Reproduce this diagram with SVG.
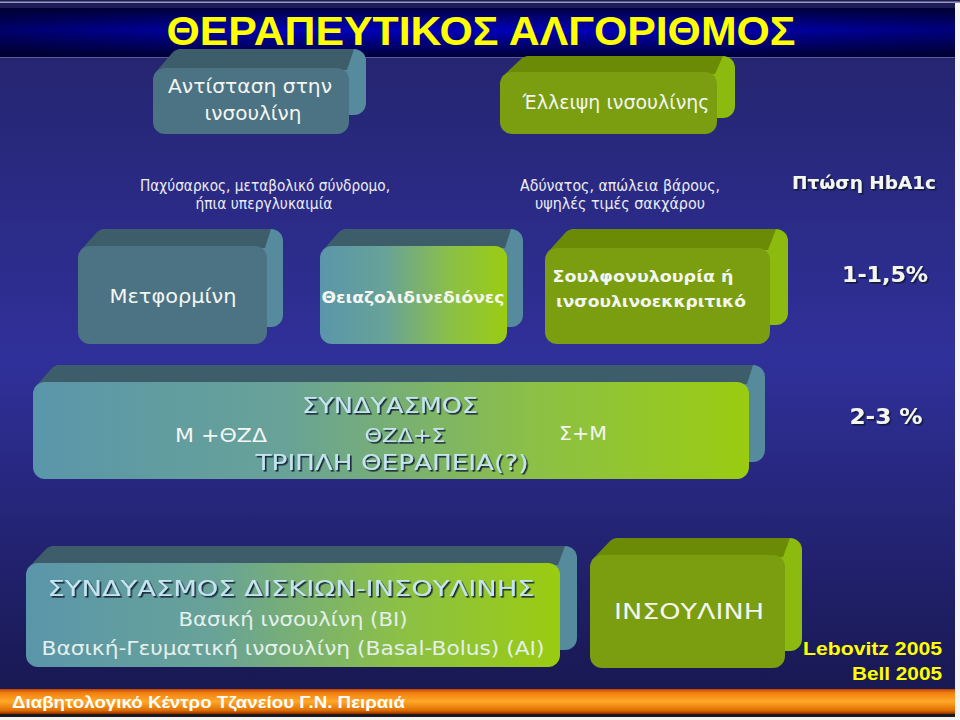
<svg xmlns="http://www.w3.org/2000/svg" width="960" height="720" viewBox="0 0 960 720">
<defs>
<linearGradient id="bg" x1="0" y1="0" x2="0" y2="1">
<stop offset="0" stop-color="#23236a"/>
<stop offset="0.5" stop-color="#30309a"/>
<stop offset="1" stop-color="#16164c"/>
</linearGradient>
<linearGradient id="titlebar" x1="0" y1="0" x2="0" y2="1">
<stop offset="0" stop-color="#000040"/>
<stop offset="0.45" stop-color="#0000b8"/>
<stop offset="1" stop-color="#000038"/>
</linearGradient>
<linearGradient id="titlefade" x1="0" y1="0" x2="1" y2="0">
<stop offset="0" stop-color="#000020" stop-opacity="0.5"/>
<stop offset="0.3" stop-color="#000020" stop-opacity="0"/>
<stop offset="0.7" stop-color="#000020" stop-opacity="0"/>
<stop offset="1" stop-color="#000020" stop-opacity="0.4"/>
</linearGradient>
<linearGradient id="mix" x1="0" y1="0" x2="1" y2="0">
<stop offset="0" stop-color="#5a96aa"/>
<stop offset="0.35" stop-color="#68a298"/>
<stop offset="0.7" stop-color="#8cc046"/>
<stop offset="1" stop-color="#9acc10"/>
</linearGradient>
<linearGradient id="footer" x1="0" y1="0" x2="0" y2="1">
<stop offset="0" stop-color="#c04000"/>
<stop offset="0.15" stop-color="#f08010"/>
<stop offset="0.5" stop-color="#ffa828"/>
<stop offset="0.85" stop-color="#e07000"/>
<stop offset="1" stop-color="#903000"/>
</linearGradient>
<filter id="sh" x="-10%" y="-30%" width="120%" height="160%">
<feDropShadow dx="1.6" dy="1.6" stdDeviation="0.4" flood-color="#0c1830" flood-opacity="0.9"/>
</filter>
</defs>
<style>
.slate-front{fill:#4b7384}
.slate-top{fill:#3e5d6b}
.slate-side{fill:#568b9d}
.green-front{fill:#7a9e10}
.green-top{fill:#6b8b06}
.green-side{fill:#8cba0e}
.mix-front{fill:url(#mix)}
.t{font-family:"DejaVu Sans","Noto Sans",sans-serif;fill:#f4f6f2;text-anchor:middle}
.b{font-weight:bold}
.lb{fill:#c4e4f0}
.note{font-family:"DejaVu Sans","Noto Sans",sans-serif;fill:#ececf4;text-anchor:middle;font-size:15px}
.y{font-family:"Liberation Sans",Arial,sans-serif;font-weight:bold;fill:#ffff00}
</style>
<rect x="0" y="0" width="960" height="720" fill="url(#bg)"/>
<rect x="0" y="0" width="960" height="8" fill="#1c1c58"/>
<rect x="0" y="1.5" width="960" height="1.5" fill="#9a9ab8"/>
<rect x="0" y="8" width="960" height="49" fill="url(#titlebar)"/>
<rect x="0" y="8" width="960" height="49" fill="url(#titlefade)"/>
<rect x="0" y="57" width="960" height="1" fill="#5a5aa8"/>
<rect x="955" y="3" width="5" height="717" fill="#f4f4f4"/>

<g id="title">
<text class="y" x="481" y="45" font-size="41" text-anchor="middle" textLength="629" lengthAdjust="spacingAndGlyphs">ΘΕΡΑΠΕΥΤΙΚΟΣ ΑΛΓΟΡΙΘΜΟΣ</text>
</g>

<g id="node-antistasi">
<rect class="slate-side" x="170" y="49" width="196" height="66" rx="12"/>
<path class="slate-top" d="M155,73 L173,52 Q176,49 182,49 L354,49 L347,70 Z"/>
<rect class="slate-front" x="153" y="68" width="196" height="66" rx="12"/>
<text class="t" x="250" y="93" font-size="19" textLength="164" lengthAdjust="spacingAndGlyphs">Αντίσταση στην</text>
<text class="t" x="253" y="120" font-size="19" textLength="97" lengthAdjust="spacingAndGlyphs">ινσουλίνη</text>
</g>

<g id="node-elleipsi">
<rect class="green-side" x="518" y="56" width="217" height="62" rx="12"/>
<path class="green-top" d="M502,77 L521,59 Q524,56 530,56 L723,56 L715,74 Z"/>
<rect class="green-front" x="500" y="72" width="217" height="62" rx="12"/>
<text class="t" x="616" y="109" font-size="19" textLength="187" lengthAdjust="spacingAndGlyphs">Έλλειψη ινσουλίνης</text>
</g>

<g id="note-left">
<text class="note" x="265" y="191" textLength="250" lengthAdjust="spacingAndGlyphs">Παχύσαρκος, μεταβολικό σύνδρομο,</text>
<text class="note" x="264" y="209" textLength="137" lengthAdjust="spacingAndGlyphs">ήπια υπεργλυκαιμία</text>
</g>
<g id="note-mid">
<text class="note" x="620" y="191" textLength="200" lengthAdjust="spacingAndGlyphs">Αδύνατος, απώλεια βάρους,</text>
<text class="note" x="620" y="209" textLength="170" lengthAdjust="spacingAndGlyphs">υψηλές τιμές σακχάρου</text>
</g>
<g id="note-hba1c" filter="url(#sh)">
<text class="t b" x="864" y="189" font-size="17" textLength="144" lengthAdjust="spacingAndGlyphs">Πτώση HbA1c</text>
</g>

<g id="node-metformini">
<rect class="slate-side" x="94" y="229" width="189" height="98" rx="12"/>
<path class="slate-top" d="M80,251 L97,232 Q100,229 106,229 L271,229 L265,248 Z"/>
<rect class="slate-front" x="78" y="246" width="189" height="98" rx="12"/>
<text class="t" x="173" y="303" font-size="19" textLength="127" lengthAdjust="spacingAndGlyphs">Μετφορμίνη</text>
</g>

<g id="node-thiazol">
<rect class="slate-side" x="336" y="229" width="187" height="98" rx="12"/>
<path class="slate-top" d="M322,251 L339,232 Q342,229 348,229 L511,229 L505,248 Z"/>
<rect class="mix-front" x="320" y="246" width="187" height="98" rx="12"/>
<text class="t b" x="413" y="303" font-size="16" textLength="183" lengthAdjust="spacingAndGlyphs">Θειαζολιδινεδιόνες</text>
</g>

<g id="node-sulfon">
<rect class="green-side" x="563" y="229" width="225" height="96" rx="12"/>
<path class="green-top" d="M547,253 L566,232 Q569,229 575,229 L776,229 L768,250 Z"/>
<rect class="green-front" x="545" y="248" width="225" height="96" rx="12"/>
<text class="t b" x="643" y="282" font-size="16" textLength="181" lengthAdjust="spacingAndGlyphs">Σουλφονυλουρία ή</text>
<text class="t b" x="651" y="307" font-size="16" textLength="190" lengthAdjust="spacingAndGlyphs">ινσουλινοεκκριτικό</text>
</g>

<g id="note-pct1" filter="url(#sh)">
<text class="t b" x="885" y="282" font-size="21" textLength="86" lengthAdjust="spacingAndGlyphs">1-1,5%</text>
</g>

<g id="node-combo">
<rect class="slate-side" x="49" y="365" width="716" height="97" rx="12"/>
<path class="slate-top" d="M35,387 L52,368 Q55,365 61,365 L753,365 L747,384 Z"/>
<rect class="mix-front" x="33" y="382" width="716" height="97" rx="12"/>
<text class="t lb" x="390" y="413" font-size="21" textLength="176" lengthAdjust="spacingAndGlyphs" filter="url(#sh)">ΣΥΝΔΥΑΣΜΟΣ</text>
<text class="t" x="221" y="442" font-size="20" textLength="92" lengthAdjust="spacingAndGlyphs">Μ +ΘΖΔ</text>
<text class="t lb" x="405" y="442" font-size="20" textLength="81" lengthAdjust="spacingAndGlyphs" filter="url(#sh)">ΘΖΔ+Σ</text>
<text class="t" x="583" y="440" font-size="20" textLength="48" lengthAdjust="spacingAndGlyphs">Σ+Μ</text>
<text class="t lb" x="392" y="470" font-size="21" textLength="273" lengthAdjust="spacingAndGlyphs" filter="url(#sh)">ΤΡΙΠΛΗ ΘΕΡΑΠΕΙΑ(?)</text>
</g>

<g id="note-pct2" filter="url(#sh)">
<text class="t b" x="886" y="424" font-size="21" textLength="73" lengthAdjust="spacingAndGlyphs">2-3 %</text>
</g>

<g id="node-discs-insulin">
<rect class="slate-side" x="43" y="546" width="534" height="104" rx="12"/>
<path class="slate-top" d="M28,568 L46,549 Q49,546 55,546 L565,546 L558,565 Z"/>
<rect class="mix-front" x="26" y="563" width="534" height="104" rx="12"/>
<text class="t lb" x="291" y="596" font-size="21" textLength="487" lengthAdjust="spacingAndGlyphs" filter="url(#sh)">ΣΥΝΔΥΑΣΜΟΣ ΔΙΣΚΙΩΝ-ΙΝΣΟΥΛΙΝΗΣ</text>
<text class="t" x="293" y="626" font-size="20" textLength="229" lengthAdjust="spacingAndGlyphs" style="fill:#e4f0ec">Βασική ινσουλίνη (BI)</text>
<text class="t" x="293" y="655" font-size="20" textLength="503" lengthAdjust="spacingAndGlyphs" style="fill:#e4f0ec">Βασική-Γευματική ινσουλίνη (Basal-Bolus) (AI)</text>
</g>

<g id="node-insulin">
<rect class="green-side" x="607" y="538" width="195" height="113" rx="12"/>
<path class="green-top" d="M592,560 L610,541 Q613,538 619,538 L790,538 L783,557 Z"/>
<rect class="green-front" x="590" y="555" width="195" height="113" rx="12"/>
<text class="t" x="689" y="619" font-size="21" textLength="150" lengthAdjust="spacingAndGlyphs">ΙΝΣΟΥΛΙΝΗ</text>
</g>

<g id="refs">
<text class="y" x="942" y="655" font-size="18" text-anchor="end" textLength="139" lengthAdjust="spacingAndGlyphs">Lebovitz 2005</text>
<text class="y" x="942" y="680" font-size="18" text-anchor="end" textLength="90" lengthAdjust="spacingAndGlyphs">Bell 2005</text>
</g>

<g id="connectors"></g>

<g id="footer">
<rect x="0" y="689" width="955" height="25" fill="url(#footer)"/>
<rect x="0" y="714" width="955" height="3" fill="#1a1a1a"/>
<rect x="0" y="717" width="960" height="3" fill="#f4f4f4"/>
<text x="12" y="708" font-family="'Liberation Sans',Arial,sans-serif" font-weight="bold" font-size="17" fill="#ffffff" textLength="393" lengthAdjust="spacingAndGlyphs">Διαβητολογικό Κέντρο Τζανείου Γ.Ν. Πειραιά</text>
</g>
</svg>
